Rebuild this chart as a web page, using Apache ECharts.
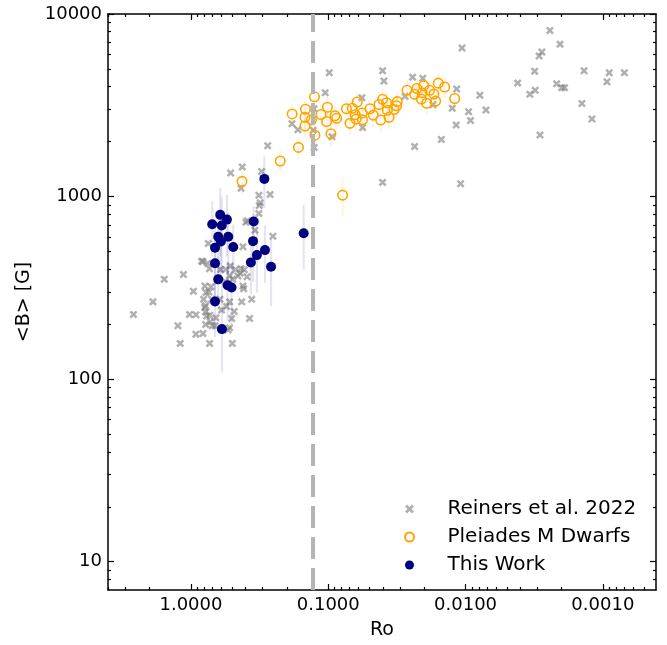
<!DOCTYPE html>
<html><head><meta charset="utf-8">
<script src="https://cdn.jsdelivr.net/npm/echarts@6/dist/echarts.min.js"></script>
<style>html,body{margin:0;padding:0;background:#fff}#c{width:667px;height:645px}</style>
</head><body><div id="c"></div>
<script>
// ---- Reiners et al. 2022 ----
const roRei = [0.276,0.423,0.514,0.306,0.432,0.320,0.265,0.313,0.320,0.387,0.342,0.253,0.748,0.418,0.818,0.756,0.733,0.517,0.559,0.473,
  0.432,0.409,1.565,1.134,0.523,0.438,0.391,0.959,0.791,0.715,0.740,0.418,0.413,1.891,0.808,0.782,0.707,0.523,0.427,0.361,
  2.623,1.025,0.920,0.782,0.731,0.598,0.484,0.505,0.374,1.244,0.782,0.724,0.700,0.523,0.920,0.818,1.197,0.731,0.500,0.615,
  0.550,0.658,0.665,0.538,0.455,0.497,0.563,0.531,0.608,0.318,0.398,0.795,0.769,0.778,0.836,
  0.0983,0.1052,0.1271,0.1286,0.1265,0.1838,0.1663,0.0940,0.0568,0.0562,0.0402,0.0393,0.0402,0.0276,0.0243,0.0205,0.0173,0.0235,0.0150,0.0125,
  0.0117,0.0116,0.0106,0.0095,0.0092,0.00786,0.00710,0.01086,0.00417,0.00340,0.00311,0.00314,0.00291,0.00278,0.00287,0.00243,0.00205,0.00217,0.00199,0.00190,
  0.00137,0.00142,0.00120,0.000933,0.000898,0.000697];
const bRei = [1900,1453,1348,1370,1110,1017,1026,924,808,737,654,607,554,531,441,431,402,416,399,399,
  403,397,352,374,370,380,364,303,324,321,300,324,313,265,274,252,274,265,265,274,
  226,226,225,233,224,239,235,215,215,196,199,206,196,191,176,178,157,157,157,274,
  250,217,196,186,367,352,343,324,399,893,724,247,222,298,443,
  4760,3701,3026,2309,1859,2506,2324,2128,3475,2391,4893,4293,1196,3542,4510,4441,3182,1883,2056,3045,
  2468,3883,6520,2914,2609,3586,2981,1175,4187,3632,3819,4851,5881,6200,2177,8124,6839,4155,3951,3951,
  4893,3231,2662,4261,4760,4772];

// ---- Pleiades M Dwarfs ----
const roPle = [0.425,0.2237,0.1648,0.1832,0.1466,0.1478,0.1478,0.1260,0.1325,0.1250,0.0786,0.1014,0.1130,0.1027,0.0894,0.0869,0.0956,
  0.0737,0.0669,0.0615,0.0695,0.0628,0.0636,0.0565,0.0563,0.0497,0.0470,0.0427,0.0402,0.0376,0.0415,0.0371,0.0361,0.0331,0.0314,
  0.0318,0.0267,0.0235,0.0226,0.0207,0.0202,0.0183,0.0210,0.0192,0.0165,0.0170,0.0158,0.0142,0.0120];
const bPle = [1212,1567,1859,2835,3007,2719,2434,3519,2635,2169,1019,3084,2817,2576,2771,2685,2210,
  3026,3045,3296,2518,2658,2806,2867,2635,3026,2795,3194,3410,3264,2628,2969,2719,2999,3313,
  3143,3819,3632,3907,3701,4053,3819,3423,3243,3334,3640,4181,3981,3445];
const ePle = [180,220,250,400,420,380,350,450,360,300,240,420,380,360,380,370,320,
  420,420,450,360,380,390,400,370,420,390,440,460,450,370,410,380,420,450,
  430,500,480,500,480,520,500,460,440,450,480,540,520,460];

// ---- This Work ----
const roTw = [0.292,0.612,0.547,0.700,0.597,0.349,0.151,0.633,0.535,0.605,0.668,0.492,0.353,0.289,0.331,0.366,0.261,0.668,0.633,0.541,0.506,0.668,0.595];
const bTw  = [1250,794,748,706,695,730,630,602,602,568,525,529,570,509,478,436,413,431,352,327,318,266,188];
const bTwLo = [867,470,470,470,380,560,399,380,380,350,330,385,340,337,298,290,251,280,240,210,200,170,109];
const bTwHi = [1660,1117,1025,942,1000,885,904,820,820,790,720,703,800,695,660,580,582,580,470,440,430,370,324];

// ---- axes ----
const xMajor = [0.001,0.01,0.1,1];
const xMinor = [0.0005,0.0006,0.0007,0.0008,0.0009,0.002,0.003,0.004,0.005,0.006,0.007,0.008,0.009,
  0.02,0.03,0.04,0.05,0.06,0.07,0.08,0.09,0.2,0.3,0.4,0.5,0.6,0.7,0.8,0.9,2,3,4];
const yMajor = [10,100,1000,10000];
const yMinor = [8,9,20,30,40,50,60,70,80,90,200,300,400,500,600,700,800,900,2000,3000,4000,5000,6000,7000,8000,9000];
const xMin = 0.00041, xMax = 4.02, yMin = 7.0, yMax = 10000;
const roCut = 0.13;

const FONT = 'DejaVu Sans';
function mkX(pos, ticks, len, line, labels, extra) {
  return Object.assign({
    type: 'log', logBase: 10, gridIndex: 0, position: pos, inverse: true, min: xMin, max: xMax,
    axisLine: {show: line, lineStyle: {color: '#000', width: 1.5}},
    axisTick: {show: true, inside: true, length: len, customValues: ticks, lineStyle: {color: '#000', width: 1.2}},
    axisLabel: {show: labels, customValues: xMajor, margin: 6, color: '#000', fontFamily: FONT, fontSize: 18,
      formatter: v => Number(v).toFixed(4)},
    splitLine: {show: false}, minorTick: {show: false}, minorSplitLine: {show: false}
  }, extra || {});
}
function mkY(pos, ticks, len, line, labels, extra) {
  return Object.assign({
    type: 'log', logBase: 10, gridIndex: 0, position: pos, min: yMin, max: yMax,
    axisLine: {show: line, lineStyle: {color: '#000', width: 1.5}},
    axisTick: {show: true, inside: true, length: len, customValues: ticks, lineStyle: {color: '#000', width: 1.2}},
    axisLabel: {show: labels, customValues: yMajor, margin: 6, color: '#000', fontFamily: FONT, fontSize: 18,
      formatter: v => String(Math.round(v))},
    splitLine: {show: false}, minorTick: {show: false}, minorSplitLine: {show: false}
  }, extra || {});
}

const crossPath = 'path://M0,2.2L2.2,0L5,2.8L7.8,0L10,2.2L7.2,5L10,7.8L7.8,10L5,7.2L2.2,10L0,7.8L2.8,5Z';

const chart = echarts.init(document.getElementById('c'), null, {renderer: 'canvas'});
chart.setOption({
  animation: false,
  backgroundColor: '#fff',
  grid: {left: 108, right: 11, top: 14, bottom: 51, containLabel: false},
  xAxis: [
    mkX('bottom', xMajor, 6, true, true, {name: 'Ro', nameLocation: 'middle', nameGap: 31,
      nameTextStyle: {color: '#000', fontFamily: FONT, fontSize: 19}}),
    mkX('bottom', xMinor, 3, false, false),
    mkX('top', xMajor, 6, true, false),
    mkX('top', xMinor, 3, false, false)
  ],
  yAxis: [
    mkY('left', yMajor, 6, true, true, {name: '<B> [G]', nameLocation: 'middle', nameGap: 64, nameRotate: 90,
      nameTextStyle: {color: '#000', fontFamily: FONT, fontSize: 19}}),
    mkY('left', yMinor, 3, false, false),
    mkY('right', yMajor, 6, true, false),
    mkY('right', yMinor, 3, false, false)
  ],
  legend: {
    data: ['Reiners et al. 2022', 'Pleiades M Dwarfs', 'This Work'],
    orient: 'vertical', left: 404, top: 499, padding: 0, itemGap: 8,
    itemWidth: 66, itemHeight: 9,
    textStyle: {color: '#000', fontFamily: FONT, fontSize: 20},
    selectedMode: false
  },
  series: [
    {
      name: 'cut', type: 'line', data: [], z: 1, silent: true,
      markLine: {silent: true, symbol: 'none', animation: false, label: {show: false},
        lineStyle: {color: '#b5b5b5', width: 4, type: [22, 9]},
        data: [{xAxis: roCut}]}
    },
    {
      name: 'Reiners et al. 2022', type: 'scatter', z: 2, silent: true,
      symbol: crossPath, symbolSize: 8,
      itemStyle: {color: 'rgba(128,128,128,0.62)', opacity: 1},
      data: roRei.map((r, i) => [r, bRei[i]])
    },
    {
      name: 'pleErr', type: 'custom', z: 3, silent: true,
      data: roPle.map((r, i) => [r, bPle[i] - ePle[i], bPle[i] + ePle[i]]),
      encode: {x: 0, y: [1, 2]},
      renderItem: (params, api) => {
        const a = api.coord([api.value(0), api.value(1)]);
        const b = api.coord([api.value(0), api.value(2)]);
        return {type: 'line', shape: {x1: a[0], y1: a[1], x2: b[0], y2: b[1]},
          style: {stroke: 'rgba(255,165,0,0.12)', lineWidth: 2}};
      }
    },
    {
      name: 'Pleiades M Dwarfs', type: 'scatter', z: 4, silent: true,
      symbol: 'circle', symbolSize: 9.5,
      itemStyle: {color: 'rgba(255,255,255,0)', borderColor: '#ffa500', borderWidth: 1.6, opacity: 1},
      data: roPle.map((r, i) => [r, bPle[i]])
    },
    {
      name: 'twErr', type: 'custom', z: 5, silent: true,
      data: roTw.map((r, i) => [r, bTwLo[i], bTwHi[i]]),
      encode: {x: 0, y: [1, 2]},
      renderItem: (params, api) => {
        const a = api.coord([api.value(0), api.value(1)]);
        const b = api.coord([api.value(0), api.value(2)]);
        return {type: 'line', shape: {x1: a[0], y1: a[1], x2: b[0], y2: b[1]},
          style: {stroke: 'rgba(0,0,128,0.1)', lineWidth: 2.2}};
      }
    },
    {
      name: 'This Work', type: 'scatter', z: 6, silent: true,
      symbol: 'circle', symbolSize: 10,
      itemStyle: {color: '#000080', opacity: 1},
      data: roTw.map((r, i) => [r, bTw[i]])
    }
  ]
});
</script></body></html>
